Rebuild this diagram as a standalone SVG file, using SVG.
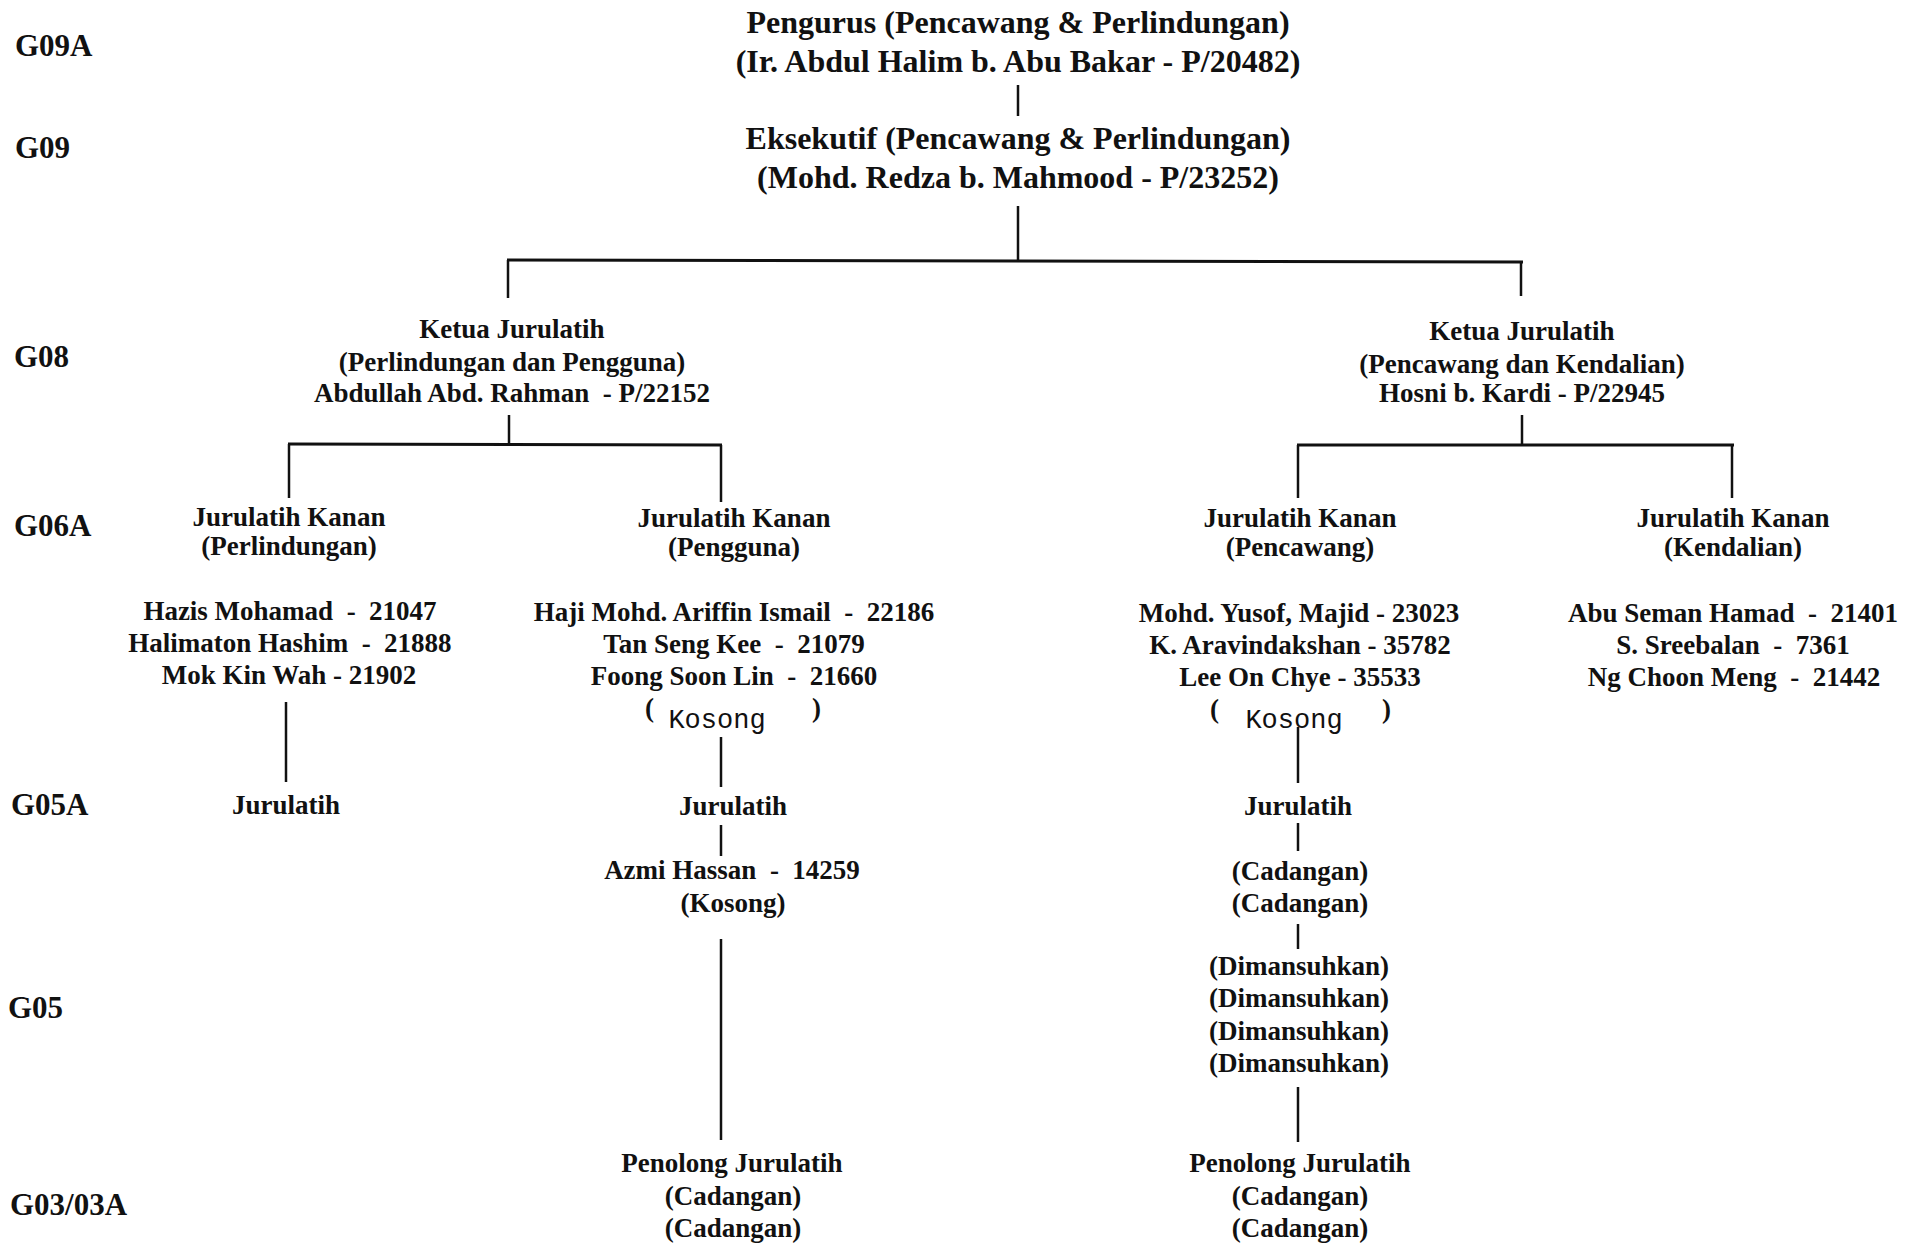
<svg xmlns="http://www.w3.org/2000/svg" width="1916" height="1252" viewBox="0 0 1916 1252">
<style>
text{font-family:"Liberation Serif","Times New Roman",serif;font-weight:bold;fill:#111;}
.t{font-size:32px;text-anchor:middle;}
.b{font-size:27px;text-anchor:middle;}
.lv{font-size:31px;text-anchor:start;}
.k{font-family:"Liberation Mono","Courier New",monospace;font-weight:normal;font-size:27px;text-anchor:middle;}
.p{font-size:27px;text-anchor:start;}
.c line{stroke:#111;stroke-width:2.5;fill:none;}
</style>
<rect x="0" y="0" width="1916" height="1252" fill="#ffffff"/>
<g id="levels">
<text class="lv" x="15" y="56">G09A</text>
<text class="lv" x="15" y="158">G09</text>
<text class="lv" x="14" y="367">G08</text>
<text class="lv" x="14" y="536">G06A</text>
<text class="lv" x="11" y="815">G05A</text>
<text class="lv" x="8" y="1018">G05</text>
<text class="lv" x="10" y="1215">G03/03A</text>
</g>
<g id="connectors" class="c">
<line x1="1018" y1="85" x2="1018" y2="116"/>
<line x1="1018" y1="206" x2="1018" y2="260"/>
<line x1="507" y1="260" x2="1523" y2="262" style="stroke-width:3"/>
<line x1="508" y1="260" x2="508" y2="298"/>
<line x1="1521" y1="262" x2="1521" y2="296"/>
<line x1="509" y1="415" x2="509" y2="444"/>
<line x1="288" y1="444" x2="722" y2="445" style="stroke-width:3"/>
<line x1="289" y1="444" x2="289" y2="498"/>
<line x1="721" y1="445" x2="721" y2="502"/>
<line x1="1522" y1="415" x2="1522" y2="445"/>
<line x1="1297" y1="445" x2="1734" y2="445" style="stroke-width:3"/>
<line x1="1298" y1="445" x2="1298" y2="498"/>
<line x1="1732" y1="445" x2="1732" y2="498"/>
<line x1="286" y1="702" x2="286" y2="782"/>
<line x1="721" y1="737" x2="721" y2="787"/>
<line x1="721" y1="825" x2="721" y2="856"/>
<line x1="721" y1="939" x2="721" y2="1140"/>
<line x1="1298" y1="727" x2="1298" y2="783"/>
<line x1="1298" y1="823" x2="1298" y2="851"/>
<line x1="1298" y1="924" x2="1298" y2="949"/>
<line x1="1298" y1="1087" x2="1298" y2="1142"/>
</g>
<g id="pengurus">
<text class="t" x="1018" y="33">Pengurus (Pencawang &amp; Perlindungan)</text>
<text class="t" x="1018" y="72">(Ir. Abdul Halim b. Abu Bakar - P/20482)</text>
</g>
<g id="eksekutif">
<text class="t" x="1018" y="149">Eksekutif (Pencawang &amp; Perlindungan)</text>
<text class="t" x="1018" y="188">(Mohd. Redza b. Mahmood - P/23252)</text>
</g>
<g id="ketua-kiri">
<text class="b" x="512" y="338">Ketua Jurulatih</text>
<text class="b" x="512" y="371">(Perlindungan dan Pengguna)</text>
<text class="b" x="512" y="402">Abdullah Abd. Rahman&#160; - P/22152</text>
</g>
<g id="ketua-kanan">
<text class="b" x="1522" y="340">Ketua Jurulatih</text>
<text class="b" x="1522" y="373">(Pencawang dan Kendalian)</text>
<text class="b" x="1522" y="402">Hosni b. Kardi - P/22945</text>
</g>
<g id="kanan-perlindungan">
<text class="b" x="289" y="526">Jurulatih Kanan</text>
<text class="b" x="289" y="555">(Perlindungan)</text>
<text class="b" x="290" y="620">Hazis Mohamad&#160; -&#160; 21047</text>
<text class="b" x="290" y="652">Halimaton Hashim&#160; -&#160; 21888</text>
<text class="b" x="289" y="684">Mok Kin Wah - 21902</text>
</g>
<g id="kanan-pengguna">
<text class="b" x="734" y="527">Jurulatih Kanan</text>
<text class="b" x="734" y="556">(Pengguna)</text>
<text class="b" x="734" y="621">Haji Mohd. Ariffin Ismail&#160; -&#160; 22186</text>
<text class="b" x="734" y="653">Tan Seng Kee&#160; -&#160; 21079</text>
<text class="b" x="734" y="685">Foong Soon Lin&#160; -&#160; 21660</text>
<text class="p" x="645" y="717">(</text>
<text class="k" x="717" y="728">Kosong</text>
<text class="p" x="812" y="717">)</text>
</g>
<g id="kanan-pencawang">
<text class="b" x="1300" y="527">Jurulatih Kanan</text>
<text class="b" x="1300" y="556">(Pencawang)</text>
<text class="b" x="1299" y="622">Mohd. Yusof, Majid - 23023</text>
<text class="b" x="1300" y="654">K. Aravindakshan - 35782</text>
<text class="b" x="1300" y="686">Lee On Chye - 35533</text>
<text class="p" x="1210" y="718">(</text>
<text class="k" x="1294" y="728">Kosong</text>
<text class="p" x="1382" y="718">)</text>
</g>
<g id="kanan-kendalian">
<text class="b" x="1733" y="527">Jurulatih Kanan</text>
<text class="b" x="1733" y="556">(Kendalian)</text>
<text class="b" x="1733" y="622">Abu Seman Hamad&#160; -&#160; 21401</text>
<text class="b" x="1733" y="654">S. Sreebalan&#160; -&#160; 7361</text>
<text class="b" x="1734" y="686">Ng Choon Meng&#160; -&#160; 21442</text>
</g>
<g id="jurulatih-perlindungan">
<text class="b" x="286" y="814">Jurulatih</text>
</g>
<g id="jurulatih-pengguna">
<text class="b" x="733" y="815">Jurulatih</text>
<text class="b" x="732" y="879">Azmi Hassan&#160; -&#160; 14259</text>
<text class="b" x="733" y="912">(Kosong)</text>
</g>
<g id="jurulatih-pencawang">
<text class="b" x="1298" y="815">Jurulatih</text>
<text class="b" x="1300" y="880">(Cadangan)</text>
<text class="b" x="1300" y="912">(Cadangan)</text>
</g>
<g id="dimansuhkan">
<text class="b" x="1299" y="975">(Dimansuhkan)</text>
<text class="b" x="1299" y="1007">(Dimansuhkan)</text>
<text class="b" x="1299" y="1040">(Dimansuhkan)</text>
<text class="b" x="1299" y="1072">(Dimansuhkan)</text>
</g>
<g id="penolong-pengguna">
<text class="b" x="732" y="1172">Penolong Jurulatih</text>
<text class="b" x="733" y="1205">(Cadangan)</text>
<text class="b" x="733" y="1237">(Cadangan)</text>
</g>
<g id="penolong-pencawang">
<text class="b" x="1300" y="1172">Penolong Jurulatih</text>
<text class="b" x="1300" y="1205">(Cadangan)</text>
<text class="b" x="1300" y="1237">(Cadangan)</text>
</g>
</svg>
